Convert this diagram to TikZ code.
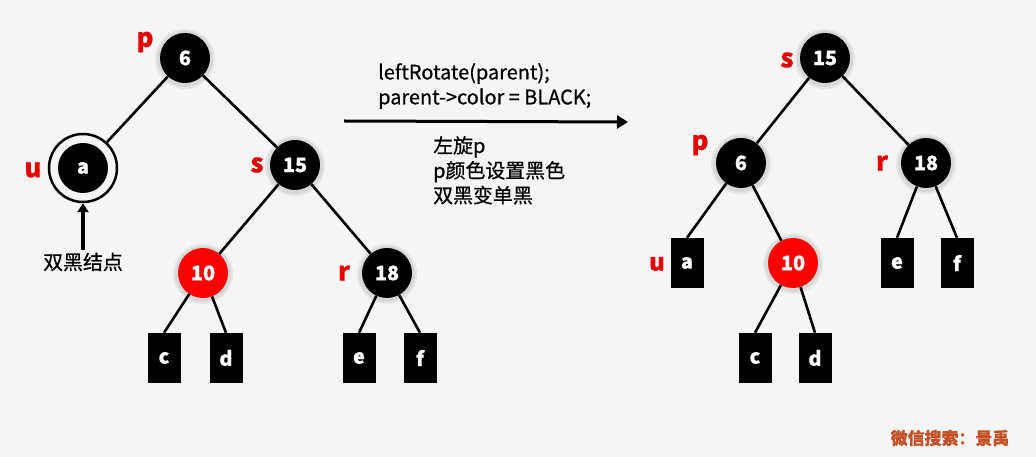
\documentclass[tikz,border=0pt]{standalone}
\usepackage{fontspec}
\setmainfont{Noto Sans CJK SC}[FakeBold=0.7]
\usetikzlibrary{arrows.meta}
\definecolor{bgc}{RGB}{245,245,245}
\definecolor{rbred}{RGB}{255,0,0}
\definecolor{lblred}{RGB}{232,0,0}
\definecolor{wmark}{RGB}{196,82,40}
\tikzset{
  halo/.style={fill=black,opacity=0.06},
  blk/.style={circle,fill=black,minimum size=50bp,inner sep=0pt,text=white,font=\fontsize{20}{22}\selectfont\bfseries},
  redn/.style={circle,fill=rbred,minimum size=50bp,inner sep=0pt,text=white,font=\fontsize{20}{22}\selectfont\bfseries},
  leaf/.style={rectangle,fill=black,minimum width=33bp,minimum height=50bp,inner sep=0pt,text=white,font=\fontsize{20}{22}\selectfont\bfseries},
  ring/.style={circle,draw=black,line width=2.5bp,minimum size=68bp,inner sep=0pt},
  lbl/.style={text=lblred,font=\fontsize{26}{28}\selectfont\bfseries,inner sep=0pt},
  edge/.style={line width=2.6bp,black},
  txt/.style={font=\fontsize{20}{25}\selectfont,inner sep=0pt,align=left},
}
\begin{document}
\begin{tikzpicture}[x=1bp,y=-1bp]
\fill[bgc] (0,0) rectangle (1036,457);
\useasboundingbox (0,0) rectangle (1036,457);
% soft halos
\foreach \px/\py in {185/58,295/165,203/273,387/273,825/58,741/163,926/163,793/263}{
  \fill[halo] (\px,\py+1) circle (28bp);
  \fill[halo] (\px,\py+1) circle (30bp);
}
% ---------- left tree ----------
\node[blk] (lp) at (185,58) {6};
\node[ring] (lu) at (83,168) {};
\node[blk] (lua) at (83,168) {a};
\node[blk] (ls) at (295,165) {15};
\node[redn] (l10) at (203,273) {10};
\node[blk] (lr) at (387,273) {18};
\node[leaf] (lc) at (164,358) {c};
\node[leaf] (ld) at (226,358) {d};
\node[leaf] (le) at (359,358) {e};
\node[leaf] (lf) at (420,358) {f};
\node[lbl] (lpl) at (145,42) {p};
\node[lbl] (lul) at (33,170) {u};
\node[lbl] (lsl) at (257,165) {s};
\node[lbl] (lrl) at (344,273) {r};
\node[txt,font=\fontsize{20}{22}\selectfont] (dbl) at (83,262) {双黑结点};
\draw[edge] (lp) -- (lu);
\draw[edge] (lp) -- (ls);
\draw[edge] (ls) -- (l10);
\draw[edge] (ls) -- (lr);
\draw[edge] (l10) -- (lc.north);
\draw[edge] (l10) -- (ld.north);
\draw[edge] (lr) -- (le.north);
\draw[edge] (lr) -- (lf.north);
\draw[line width=3.2bp,-{Triangle[length=9bp,width=11bp]}] (dbl.north) ++(0,-3) -- (lu.south);
% ---------- middle ----------
\coordinate (as) at (344,121);
\coordinate (ae) at (628,122);
\draw[line width=3bp,-{Triangle[length=11bp,width=13bp]}] (as) -- (ae);
\node[txt,anchor=west] (code) at (378,86) {leftRotate(parent);\\parent->color = BLACK;};
\node[txt,anchor=north west,font=\fontsize{20}{25}\selectfont] (desc) at (433,136) {左旋p\\p颜色设置黑色\\双黑变单黑};
% ---------- right tree ----------
\node[blk] (rs) at (825,58) {15};
\node[blk] (rp) at (741,163) {6};
\node[blk] (rr) at (926,163) {18};
\node[leaf] (ra) at (687,263) {a};
\node[redn] (r10) at (793,263) {10};
\node[leaf] (re) at (897,263) {e};
\node[leaf] (rf) at (957,263) {f};
\node[leaf] (rc) at (755,358) {c};
\node[leaf] (rd) at (815,358) {d};
\node[lbl] (rsl) at (787,60) {s};
\node[lbl] (rpl) at (700,145) {p};
\node[lbl] (rrl) at (882,163) {r};
\node[lbl,font=\fontsize{24}{26}\selectfont\bfseries] (rul) at (657,264) {u};
\draw[edge] (rs) -- (rp);
\draw[edge] (rs) -- (rr);
\draw[edge] (rp) -- (ra.north);
\draw[edge] (rp) -- (r10);
\draw[edge] (rr) -- (re.north);
\draw[edge] (rr) -- (rf.north);
\draw[edge] (r10) -- (rc.north);
\draw[edge] (r10) -- (rd.north);
% ---------- watermark ----------
\node[text=wmark,font=\fontsize{17}{20}\selectfont\bfseries,inner sep=0pt] (wm) at (950,438) {微信搜索：景禹};
\end{tikzpicture}
\end{document}
